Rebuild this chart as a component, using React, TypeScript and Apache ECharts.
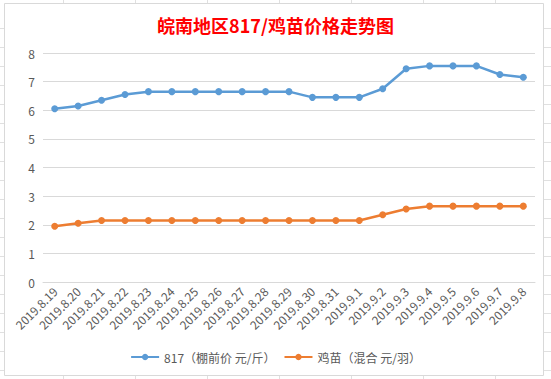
import React, { useEffect, useRef } from "react";
import * as echarts from "echarts";

const titleText = "皖南地区817/鸡苗价格走势图";
const categories = [
  "2019.8.19", "2019.8.20", "2019.8.21", "2019.8.22", "2019.8.23", "2019.8.24",
  "2019.8.25", "2019.8.26", "2019.8.27", "2019.8.28", "2019.8.29", "2019.8.30",
  "2019.8.31", "2019.9.1", "2019.9.2", "2019.9.3", "2019.9.4", "2019.9.5",
  "2019.9.6", "2019.9.7", "2019.9.8",
];
const series817Name = "817（棚前价 元/斤）";
const series817 = [
  6.05, 6.15, 6.35, 6.55, 6.65, 6.65, 6.65, 6.65, 6.65, 6.65, 6.65,
  6.45, 6.45, 6.45, 6.75, 7.45, 7.55, 7.55, 7.55, 7.25, 7.15,
];
const chickName = "鸡苗（混合 元/羽）";
const chickSeries = [
  1.95, 2.05, 2.15, 2.15, 2.15, 2.15, 2.15, 2.15, 2.15, 2.15, 2.15,
  2.15, 2.15, 2.15, 2.35, 2.55, 2.65, 2.65, 2.65, 2.65, 2.65,
];

export default function App() {
  const ref = useRef<HTMLDivElement>(null);
  useEffect(() => {
    if (!ref.current) return;
    const chart = echarts.init(ref.current, undefined, { renderer: "svg" });
    const font = "'Noto Sans CJK SC', 'Noto Sans', sans-serif";
    const stub = (x1: number, y1: number, x2: number, y2: number) => ({
      type: "line",
      shape: { x1, y1, x2, y2 },
      style: { stroke: "#e0e0e0", lineWidth: 1 },
      silent: true,
    });
    const decor: any[] = [];
    [63, 135, 207, 279, 351, 423, 495].forEach((x) => {
      decor.push(stub(x + 0.5, 0, x + 0.5, 3));
      decor.push(stub(x + 0.5, 376, x + 0.5, 379));
    });
    [28, 47, 66, 85, 104, 123, 142, 161, 180, 199, 218, 237, 256, 275, 294, 313, 332, 351, 370].forEach((y) => {
      decor.push(stub(0, y + 0.5, 4, y + 0.5));
      decor.push(stub(544, y + 0.5, 551, y + 0.5));
    });
    decor.push({
      type: "rect",
      shape: { x: 4.5, y: 3.5, width: 539, height: 372 },
      style: { fill: "none", stroke: "#d9d9d9", lineWidth: 1 },
      silent: true,
    });
    chart.setOption({
      animation: false,
      backgroundColor: "#ffffff",
      title: {
        text: titleText,
        left: "center",
        top: 11,
        textStyle: { color: "#ff0000", fontSize: 18, fontWeight: "bold", fontFamily: font },
      },
      graphic: decor,
      legend: {
        bottom: 11,
        left: "center",
        itemWidth: 28,
        itemHeight: 8,
        itemGap: 8,
        textStyle: { color: "#595959", fontSize: 12, fontFamily: font },
        data: [series817Name, chickName],
      },
      grid: { left: 43, right: 16, top: 53, bottom: 97, containLabel: false },
      xAxis: {
        type: "category",
        data: categories,
        boundaryGap: true,
        axisLine: { lineStyle: { color: "#d9d9d9" } },
        axisTick: { show: false },
        axisLabel: {
          rotate: 45,
          interval: 0,
          color: "#595959",
          fontSize: 12,
          fontFamily: font,
          margin: 7,
        },
      },
      yAxis: {
        type: "value",
        min: 0,
        max: 8,
        interval: 1,
        axisLine: { show: false },
        axisTick: { show: false },
        splitLine: { lineStyle: { color: "#d9d9d9" } },
        axisLabel: { color: "#595959", fontSize: 12, fontFamily: font, margin: 8 },
      },
      series: [
        {
          name: series817Name,
          type: "line",
          data: series817,
          symbol: "circle",
          symbolSize: 7,
          lineStyle: { width: 2.5, color: "#5b9bd5" },
          itemStyle: { color: "#5b9bd5" },
        },
        {
          name: chickName,
          type: "line",
          data: chickSeries,
          symbol: "circle",
          symbolSize: 7,
          lineStyle: { width: 2.5, color: "#ed7d31" },
          itemStyle: { color: "#ed7d31" },
        },
      ],
    });
    return () => chart.dispose();
  }, []);
  return <div ref={ref} style={{ width: 551, height: 379, position: "fixed", left: 0, top: 0 }} />;
}
